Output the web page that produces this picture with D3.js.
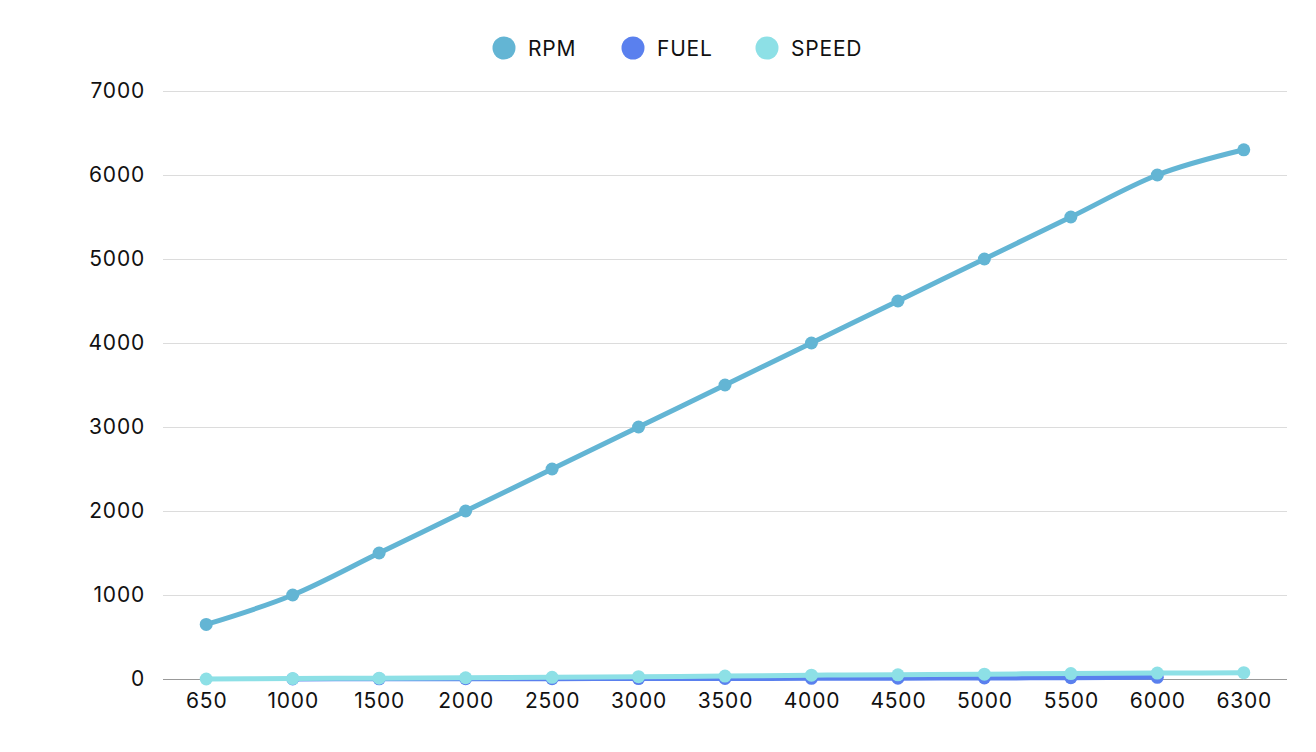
<!DOCTYPE html>
<html>
<head>
<meta charset="utf-8">
<script src="https://cdn.jsdelivr.net/npm/d3@7"></script>
<style>
  body { margin: 0; background: #fff; overflow: hidden; }
  svg { display: block; overflow: visible; }
  text { font-family: Inter, "Noto Sans", sans-serif; fill: #111; letter-spacing: 0.8px; }
  .grid line { stroke: #dcdcdc; }
  .grid .domain { display: none; }
</style>
</head>
<body>
<div id="chart"></div>
<script>
const categories = ['650', '1000', '1500', '2000', '2500', '3000', '3500', '4000', '4500', '5000', '5500', '6000', '6300']
const rpm = [650, 1000, 1500, 2000, 2500, 3000, 3500, 4000, 4500, 5000, 5500, 6000, 6300]
const fuel = [null, 1, 2, 3, 4, 5, 6, 8, 10, 12, 15, 20, null]
const speed = [0, 5, 10, 15, 20, 28, 35, 45, 50, 58, 65, 70, 75]
const yTicks = [0, 1000, 2000, 3000, 4000, 5000, 6000, 7000]

const seriesList = [
  { name: 'RPM', values: rpm, color: '#63b5d4' },
  { name: 'FUEL', values: fuel, color: '#5a80ee' },
  { name: 'SPEED', values: speed, color: '#8de0e6' }
]

const width = 1316
const height = 752
const margin = { top: 91, right: 29, bottom: 73, left: 163 }
const innerWidth = width - margin.left - margin.right
const innerHeight = height - margin.top - margin.bottom

const svg = d3.select('#chart').append('svg')
  .attr('width', width)
  .attr('height', height)

const g = svg.append('g')
  .attr('transform', `translate(${margin.left}, ${margin.top})`)

const x = d3.scalePoint().domain(categories).range([0, innerWidth]).padding(0.5)
const y = d3.scaleLinear().domain([0, 7000]).range([innerHeight, 0])

// gridlines
g.append('g')
  .attr('class', 'grid')
  .call(d3.axisLeft(y).tickValues(yTicks).tickSize(-innerWidth).tickFormat(''))

// y labels
g.append('g')
  .call(d3.axisLeft(y).tickValues(yTicks).tickSize(0).tickPadding(18).tickFormat(d3.format('d')))
  .call(a => a.select('.domain').remove())
  .selectAll('text')
  .style('font-size', '21px')

// x axis
g.append('g')
  .attr('transform', `translate(0, ${innerHeight})`)
  .call(d3.axisBottom(x).tickSize(0).tickPadding(14))
  .call(a => a.select('.domain').attr('stroke', '#999').attr('d', `M0,0.5H${innerWidth}`))
  .selectAll('text')
  .style('font-size', '21px')

const line = d3.line()
  .defined(d => d != null)
  .x((d, i) => x(categories[i]))
  .y(d => y(d))
  .curve(d3.curveMonotoneX)

seriesList.forEach(s => {
  g.append('path')
    .datum(s.values)
    .attr('fill', 'none')
    .attr('stroke', s.color)
    .attr('stroke-width', 5)
    .attr('d', line)

  g.selectAll(null)
    .data(s.values.map((v, i) => ({ v, c: categories[i] })).filter(d => d.v != null))
    .enter().append('circle')
    .attr('cx', d => x(d.c))
    .attr('cy', d => y(d.v))
    .attr('r', 6.5)
    .attr('fill', s.color)
})

// legend
const legendX = [504, 633, 767]
const legend = svg.append('g')
seriesList.forEach((s, i) => {
  legend.append('circle')
    .attr('cx', legendX[i])
    .attr('cy', 48)
    .attr('r', 11.5)
    .attr('fill', s.color)
  legend.append('text')
    .attr('x', legendX[i] + 24)
    .attr('y', 49)
    .attr('dy', '0.35em')
    .style('font-size', '21px')
    .text(s.name)
})
</script>
</body>
</html>
